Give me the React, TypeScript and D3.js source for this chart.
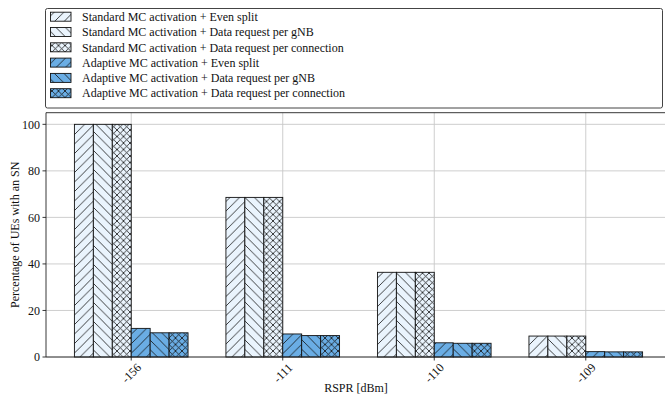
import * as d3 from "d3";
import React from "react";

// categories (RSRP bins)
const categories = ["-156", "-111", "-110", "-109"];

// series names
const seriesNames = [
  "Standard MC activation + Even split",
  "Standard MC activation + Data request per gNB",
  "Standard MC activation + Data request per connection",
  "Adaptive MC activation + Even split",
  "Adaptive MC activation + Data request per gNB",
  "Adaptive MC activation + Data request per connection",
];

// values per series, one per category
const stdEven = [100, 68.6, 36.4, 9.0];
const stdGnb = [100, 68.6, 36.4, 9.0];
const stdConn = [100, 68.6, 36.4, 9.0];
const adpEven = [12.3, 9.9, 6.1, 2.3];
const adpGnb = [10.4, 9.2, 5.9, 2.2];
const adpConn = [10.4, 9.2, 5.9, 2.2];

const yTicks = [0, 20, 40, 60, 80, 100];

const seriesValues = [stdEven, stdGnb, stdConn, adpEven, adpGnb, adpConn];
const fills = ["#eaf4fd", "#eaf4fd", "#eaf4fd", "#6aade4", "#6aade4", "#6aade4"];
const hatches = ["fwd", "back", "cross", "fwd", "back", "cross"];

const W = 665;
const H = 400;
const left = 46;
const plotTop = 112.7;
const plotBottom = 357;
const barW = 0.125;
const font = "Liberation Serif";

export default function App() {
  const x = d3.scaleLinear().domain([-0.5625, 3.5625]).range([left, left + 625]);
  const y = d3.scaleLinear().domain([0, 105]).range([plotBottom, plotTop]);
  const p = 9.5;
  const c = 6.5;

  const patch = (key: string, px: number, py: number, w: number, h: number, i: number) => (
    <g key={key}>
      <rect x={px} y={py} width={w} height={h} fill={fills[i]} />
      <rect x={px} y={py} width={w} height={h} fill={`url(#${hatches[i]})`} />
      <rect x={px} y={py} width={w} height={h} fill="none" stroke="#111" strokeWidth={0.9} />
    </g>
  );

  const ts = { fontFamily: font, fontSize: 12, fill: "#111" } as React.CSSProperties;

  return (
    <div style={{ position: "absolute", left: 0, top: 0 }}>
      <svg width={W} height={H} style={{ display: "block", background: "#fff", fontFamily: font }}>
        <defs>
          <pattern id="fwd" patternUnits="userSpaceOnUse" width={p} height={p}>
            <path
              d={`M0,${p} L${p},0 M${-p / 2},${p / 2} L${p / 2},${-p / 2} M${p / 2},${p * 1.5} L${p * 1.5},${p / 2}`}
              stroke="#111"
              strokeWidth={0.8}
            />
          </pattern>
          <pattern id="back" patternUnits="userSpaceOnUse" width={p} height={p}>
            <path
              d={`M0,0 L${p},${p} M${-p / 2},${p / 2} L${p / 2},${p * 1.5} M${p / 2},${-p / 2} L${p * 1.5},${p / 2}`}
              stroke="#111"
              strokeWidth={0.8}
            />
          </pattern>
          <pattern id="cross" patternUnits="userSpaceOnUse" width={c} height={c}>
            <path
              d={`M0,${c} L${c},0 M${-c / 2},${c / 2} L${c / 2},${-c / 2} M${c / 2},${c * 1.5} L${c * 1.5},${c / 2} M0,0 L${c},${c} M${-c / 2},${c / 2} L${c / 2},${c * 1.5} M${c / 2},${-c / 2} L${c * 1.5},${c / 2}`}
              stroke="#111"
              strokeWidth={0.8}
            />
          </pattern>
        </defs>

        {/* grid */}
        {yTicks.map((t) => (
          <line key={"gy" + t} x1={left} x2={W} y1={y(t)} y2={y(t)} stroke="#c8c8c8" strokeWidth={0.9} />
        ))}
        {categories.map((_, i) => (
          <line key={"gx" + i} x1={x(i)} x2={x(i)} y1={plotTop} y2={plotBottom} stroke="#c8c8c8" strokeWidth={0.9} />
        ))}

        {/* bars */}
        {seriesValues.map((vals, s) =>
          vals.map((v, i) => {
            const x0 = x(i + (s - 3) * barW);
            const x1 = x(i + (s - 2) * barW);
            return patch(`b${s}-${i}`, x0, y(v), x1 - x0, y(0) - y(v), s);
          })
        )}

        {/* spines */}
        <line x1={left} x2={left} y1={plotTop} y2={plotBottom} stroke="#222" strokeWidth={0.9} />
        <line x1={left} x2={W} y1={plotBottom} y2={plotBottom} stroke="#222" strokeWidth={0.9} />
        <line x1={left} x2={W} y1={plotTop} y2={plotTop} stroke="#222" strokeWidth={0.9} />

        {/* y axis */}
        {yTicks.map((t) => (
          <g key={"yt" + t}>
            <line x1={left - 3.5} x2={left} y1={y(t)} y2={y(t)} stroke="#222" strokeWidth={0.9} />
            <text x={left - 6} y={y(t)} dy="0.35em" textAnchor="end" style={ts}>
              {t}
            </text>
          </g>
        ))}
        <text
          transform={`translate(15,${(plotTop + plotBottom) / 2}) rotate(-90)`}
          textAnchor="middle"
          dy="0.35em"
          style={ts}
        >
          Percentage of UEs with an SN
        </text>

        {/* x axis */}
        {categories.map((cat, i) => (
          <g key={"xt" + i}>
            <line x1={x(i)} x2={x(i)} y1={plotBottom} y2={plotBottom + 3.5} stroke="#222" strokeWidth={0.9} />
            <text
              transform={`translate(${x(i)},${plotBottom + 16}) rotate(-45)`}
              textAnchor="middle"
              dy="0.35em"
              style={ts}
            >
              {cat}
            </text>
          </g>
        ))}
        <text x={356} y={392} textAnchor="middle" style={ts}>
          RSPR [dBm]
        </text>

        {/* legend */}
        <rect x={45.5} y={8.5} width={617} height={99.5} rx={2} fill="#fff" stroke="#444" strokeWidth={1} />
        {seriesNames.map((name, i) => {
          const cy = 16.7 + i * 15.3;
          return (
            <g key={"lg" + i}>
              {patch("lp" + i, 50.5, cy - 4.5, 20.5, 9, i)}
              <text x={82} y={cy} dy="0.35em" style={ts}>
                {name}
              </text>
            </g>
          );
        })}
      </svg>
    </div>
  );
}
